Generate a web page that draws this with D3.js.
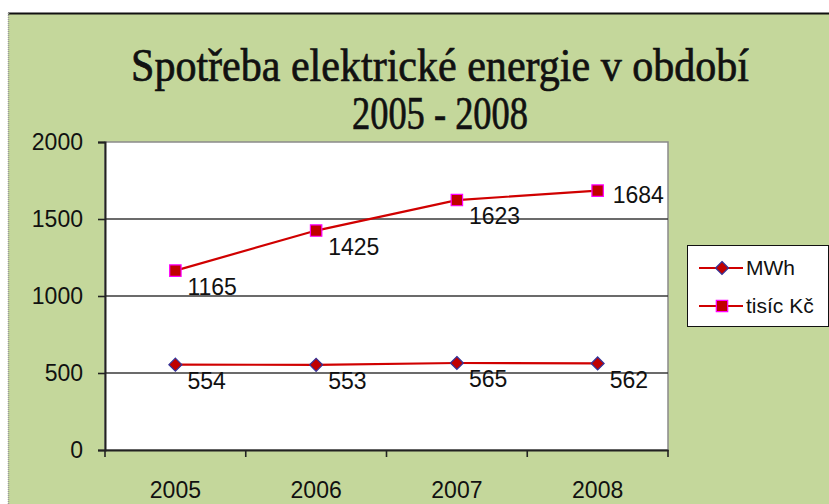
<!DOCTYPE html>
<html>
<head>
<meta charset="utf-8">
<style>
  body { margin: 0; background: #fff; }
  svg { display: block; }
</style>
</head>
<body>
<script src="https://cdn.jsdelivr.net/npm/d3@7"></script>
<svg id="chart" width="829" height="504"></svg>
<script>
// data
var years = ["2005", "2006", "2007", "2008"];
var mwh = [554, 553, 565, 562];
var tisicKc = [1165, 1425, 1623, 1684];
var seriesNames = ["MWh", "tisíc Kč"];
var yTicks = [0, 500, 1000, 1500, 2000];
var titleLines = ["Spotřeba elektrické energie v období", "2005 - 2008"];

var svg = d3.select("#chart");
var W = 829, H = 504;
var plot = { left: 105, right: 668, top: 142, bottom: 450 };

// outer chart area (green)
svg.append("rect").attr("x", 8).attr("y", 13).attr("width", W).attr("height", H)
  .attr("fill", "#c4d79b");
svg.append("line").attr("x1", 8).attr("x2", W).attr("y1", 13.5).attr("y2", 13.5)
  .attr("stroke", "#111").attr("stroke-width", 2);
svg.append("line").attr("x1", 8.5).attr("x2", 8.5).attr("y1", 13).attr("y2", H)
  .attr("stroke", "#999").attr("stroke-width", 1.5).attr("stroke-dasharray", "1,1");

// title
var title = svg.append("g");
title.selectAll("text").data(titleLines).enter().append("text")
  .attr("x", 440)
  .attr("y", function(d, i) { return 81 + i * 48; })
  .attr("text-anchor", "middle")
  .attr("font-family", "'Liberation Serif', 'DejaVu Serif', serif")
  .attr("font-size", 46)
  .attr("fill", "#111").attr("stroke", "#111").attr("stroke-width", 0.7)
  .attr("textLength", function(d, i) { return i == 0 ? 618 : 176; })
  .attr("lengthAdjust", "spacingAndGlyphs")
  .text(function(d) { return d; });

// scales
var x = d3.scaleBand().domain(years).range([plot.left, plot.right]);
var y = d3.scaleLinear().domain([0, 2000]).range([plot.bottom, plot.top]);
var cx = function(d, i) { return x(years[i]) + x.bandwidth() / 2; };

// plot background
svg.append("rect").attr("x", plot.left).attr("y", plot.top)
  .attr("width", plot.right - plot.left).attr("height", plot.bottom - plot.top)
  .attr("fill", "#fff").attr("stroke", "#8a8a8a").attr("stroke-width", 1.5);

// gridlines
svg.append("g").selectAll("line").data(yTicks.slice(1, 4)).enter().append("line")
  .attr("x1", plot.left).attr("x2", plot.right)
  .attr("y1", function(d) { return y(d); }).attr("y2", function(d) { return y(d); })
  .attr("stroke", "#3a3a3a").attr("stroke-width", 1.6);

// y axis
var yAxis = svg.append("g").attr("transform", "translate(" + plot.left + ",0)")
  .call(d3.axisLeft(y).tickValues(yTicks).tickFormat(d3.format("d")).tickSize(7).tickPadding(15));
yAxis.select(".domain").attr("stroke", "#222").attr("stroke-width", 2);
yAxis.selectAll(".tick line").attr("stroke", "#222").attr("stroke-width", 1.6);
yAxis.selectAll("text").attr("font-family", "'Liberation Sans', Arial, sans-serif")
  .attr("font-size", 23).attr("fill", "#111");

// x axis
var xAxis = svg.append("g").attr("transform", "translate(0," + plot.bottom + ")")
  .call(d3.axisBottom(x).tickSize(0).tickPadding(32));
xAxis.select(".domain").attr("stroke", "#222").attr("stroke-width", 2);
xAxis.selectAll("text").attr("font-family", "'Liberation Sans', Arial, sans-serif")
  .attr("font-size", 23).attr("fill", "#111");
xAxis.selectAll(".sep").data(d3.range(years.length + 1)).enter().append("line")
  .attr("class", "sep")
  .attr("x1", function(i) { return plot.left + i * x.bandwidth(); })
  .attr("x2", function(i) { return plot.left + i * x.bandwidth(); })
  .attr("y1", 0).attr("y2", 7)
  .attr("stroke", "#222").attr("stroke-width", 1.6);

// series
var line = d3.line().x(cx).y(function(d) { return y(d); });
// diamond = square turned by 45 degrees
var diamond = function() { return "M0,-6.5L6.5,0L0,6.5L-6.5,0Z"; };
var square = d3.symbol().type(d3.symbolSquare).size(130);

function drawSeries(vals, sym, stroke, labelRightLast) {
  var g = svg.append("g");
  g.append("path").datum(vals).attr("d", line)
    .attr("fill", "none").attr("stroke", "#d00000").attr("stroke-width", 2.2);
  g.selectAll(".m").data(vals).enter().append("path")
    .attr("class", "m")
    .attr("transform", function(d, i) { return "translate(" + cx(d, i) + "," + y(d) + ")"; })
    .attr("d", sym)
    .attr("fill", "#c00000").attr("stroke", stroke).attr("stroke-width", 1.2);
  g.selectAll(".lbl").data(vals).enter().append("text")
    .attr("class", "lbl")
    .attr("x", function(d, i) { return cx(d, i) + (labelRightLast && i == vals.length - 1 ? 15 : 12); })
    .attr("y", function(d, i) { return y(d) + (labelRightLast && i == vals.length - 1 ? 4 : 16); })
    .attr("dy", "0.35em")
    .attr("font-family", "'Liberation Sans', Arial, sans-serif")
    .attr("font-size", 23).attr("fill", "#111")
    .text(function(d) { return d; });
}
drawSeries(mwh, diamond, "#333399", false);
drawSeries(tisicKc, square, "#ff00ff", true);

// legend
var lg = svg.append("g").attr("transform", "translate(687,245)");
lg.append("rect").attr("x", 0.5).attr("y", 0.5).attr("width", 141).attr("height", 81)
  .attr("fill", "#fff").attr("stroke", "#111").attr("stroke-width", 1);
var items = lg.selectAll(".it").data(seriesNames).enter().append("g")
  .attr("transform", function(d, i) { return "translate(0," + (23 + i * 38) + ")"; });
items.append("line").attr("x1", 12).attr("x2", 56).attr("y1", 0).attr("y2", 0)
  .attr("stroke", "#d00000").attr("stroke-width", 2.2);
items.append("path")
  .attr("transform", "translate(35,0)")
  .attr("d", function(d, i) { return i == 0 ? diamond() : square(); })
  .attr("fill", "#c00000")
  .attr("stroke", function(d, i) { return i == 0 ? "#333399" : "#ff00ff"; })
  .attr("stroke-width", 1.2);
items.append("text").attr("x", 59).attr("dy", "0.35em")
  .attr("font-family", "'Liberation Sans', Arial, sans-serif")
  .attr("font-size", 21).attr("fill", "#111")
  .text(function(d) { return d; });
</script>
</body>
</html>
